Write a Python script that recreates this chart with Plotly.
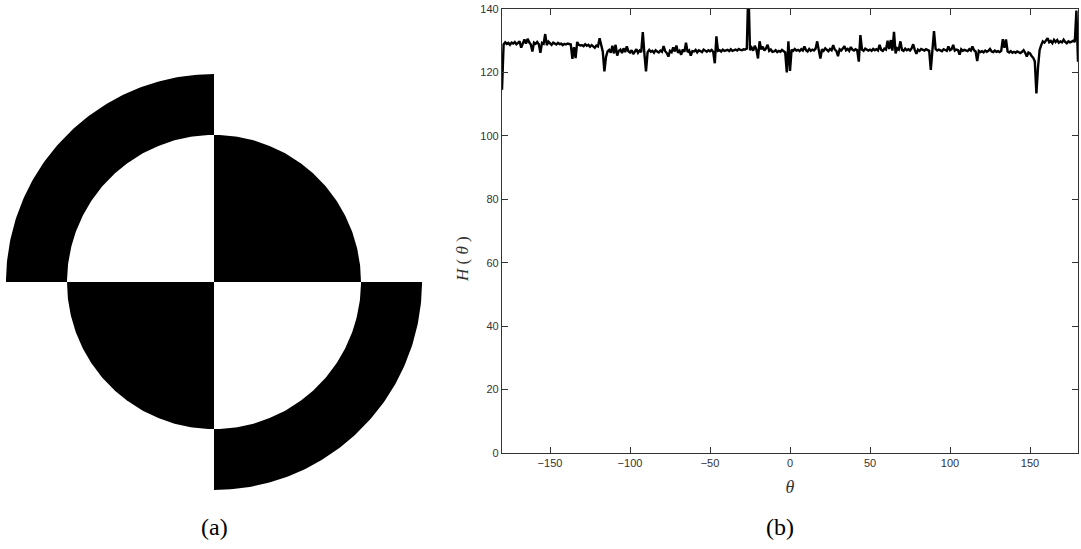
import numpy as np
import plotly.graph_objects as go

# ---------------- data: panel (b) ----------------
theta = list(range(-180, 181))
H = [
    # -180 .. -171
    114.5, 128.8, 129.5, 129.0, 129.3, 128.7, 129.4, 129.1, 129.6, 128.9,
    # -170 .. -161
    129.3, 129.8, 127.8, 129.4, 130.4, 129.1, 130.6, 129.5, 128.8, 126.6,
    # -160 .. -151
    129.4, 129.0, 129.6, 128.9, 126.2, 129.3, 129.0, 132.1, 128.6, 129.7,
    # -150 .. -141
    129.1, 128.7, 129.4, 129.0, 128.8, 129.3, 128.9, 129.1, 128.6, 129.0,
    # -140 .. -131
    128.8, 129.1, 128.9, 128.8, 124.3, 128.0, 124.5, 129.6, 128.7, 128.5,
    # -130 .. -121
    128.6, 128.3, 128.9, 128.4, 128.7, 128.1, 128.6, 128.3, 127.8, 128.5,
    # -120 .. -111
    128.2, 130.8, 128.0, 126.5, 120.3, 124.9, 126.6, 127.1, 126.2, 128.4,
    # -110 .. -101
    126.0, 128.7, 125.3, 126.8, 127.2, 126.1, 127.6, 126.4, 128.2, 126.7,
    # -100 .. -91
    126.3, 127.0, 125.8, 126.6, 127.3, 126.2, 126.9, 126.4, 132.7, 125.9,
    # -90 .. -81
    120.3, 126.4, 127.1, 126.5, 126.8, 126.2, 127.0, 126.6, 126.3, 126.9,
    # -80 .. -71
    126.5, 128.3, 126.7, 126.1, 125.0, 126.8, 126.4, 127.9, 126.6, 128.5,
    # -70 .. -61
    126.2, 126.8, 125.6, 127.3, 126.5, 129.4, 126.4, 126.9, 125.3, 126.7,
    # -60 .. -51
    126.6, 127.1, 126.3, 127.0, 126.7, 126.4, 127.2, 126.8, 126.5, 127.0,
    # -50 .. -41
    126.7, 127.1, 126.5, 122.9, 131.4, 126.8, 127.0, 126.6, 127.2, 126.8,
    # -40 .. -31
    126.9, 127.1, 126.7, 127.3, 126.8, 127.0, 127.2, 126.9, 127.4, 127.1,
    # -30 .. -21
    127.0, 127.3, 127.2, 127.5, 147.0, 127.0, 127.8, 126.9, 128.4, 127.2,
    # -20 .. -11
    124.4, 129.8, 127.3, 128.1, 126.9, 127.6, 128.7, 126.8, 127.2, 126.5,
    # -10 .. -1
    126.6, 127.0, 126.4, 126.8, 126.5, 127.1, 126.6, 126.3, 120.0, 129.8,
    # 0 .. 9
    120.5, 127.2, 126.8, 127.4, 126.9, 127.1, 126.7, 127.3, 126.9, 128.2,
    # 10 .. 19
    127.0, 126.6, 127.4, 126.8, 127.2, 126.9, 127.5, 129.8, 127.0, 124.4,
    # 20 .. 29
    127.3, 126.8, 127.6, 127.1, 126.7, 127.4, 127.0, 128.6, 127.2, 126.8,
    # 30 .. 39
    125.1, 127.3, 126.9, 127.5, 128.3, 127.0, 127.4, 126.8, 128.0, 127.2,
    # 40 .. 49
    126.9, 127.3, 127.0, 123.4, 131.8, 127.2, 126.8, 127.5, 127.1, 126.9,
    # 50 .. 59
    127.2, 126.8, 127.4, 127.0, 127.3, 126.9, 128.7, 127.1, 126.8, 127.5,
    # 60 .. 69
    127.2, 130.0, 127.4, 130.2, 126.9, 132.8, 126.0, 127.6, 127.2, 129.8,
    # 70 .. 79
    127.1, 126.8, 127.5, 127.0, 127.3, 126.9, 127.6, 128.9, 127.1, 125.9,
    # 80 .. 89
    127.2, 126.8, 127.4, 127.0, 126.9, 127.3, 127.1, 126.8, 120.8, 127.0,
    # 90 .. 99
    133.0, 127.4, 126.9, 127.2, 127.0, 126.7, 127.3, 127.1, 126.8, 128.2,
    # 100 .. 109
    127.0, 127.3, 128.7, 126.9, 127.2, 127.0, 125.6, 127.3, 126.8, 127.1,
    # 110 .. 119
    127.0, 126.7, 127.3, 126.9, 128.2, 127.0, 126.6, 123.6, 126.8, 126.4,
    # 120 .. 129
    126.7, 126.3, 126.9, 126.5, 126.8, 127.4, 126.6, 126.4, 126.9, 126.5,
    # 130 .. 139
    126.7, 126.4, 126.8, 130.5, 127.8, 130.4, 126.6, 126.3, 126.7, 126.2,
    # 140 .. 149
    126.5, 126.2, 126.6, 126.3, 126.1, 126.5, 127.0, 126.2, 125.0, 126.3,
    # 150 .. 159
    126.0, 125.2, 124.6, 123.5, 113.4, 121.5, 127.0, 128.6, 129.8, 129.4,
    # 160 .. 169
    130.0, 130.8, 129.5, 129.9, 129.2, 130.3, 129.6, 130.2, 129.4, 129.8,
    # 170 .. 179
    129.5, 130.3, 129.6, 129.2, 129.8, 129.5, 129.7, 130.0, 129.6, 139.5,
    # 180
    123.4,
]
x_ticks = [-150, -100, -50, 0, 50, 100, 150]
y_ticks = [0, 20, 40, 60, 80, 100, 120, 140]

# ---------------- data: panel (a) ----------------
inner_radius = 147
outer_radius = 208
# (start angle, end angle, inner r, outer r) of each black region, degrees
seg_start = [90, 0, 180, 270]
seg_end = [180, 90, 270, 360]
seg_r_in = [inner_radius, 0, 0, inner_radius]
seg_r_out = [outer_radius, inner_radius, inner_radius, outer_radius]

W, Hh = 1081, 549
fig = go.Figure()

# panel (a) shapes
for a0, a1, ri, ro in zip(seg_start, seg_end, seg_r_in, seg_r_out):
    t = np.radians(np.linspace(a0, a1, 120))
    xs = list(ro * np.cos(t)) + list(ri * np.cos(t[::-1]))
    ys = list(ro * np.sin(t)) + list(ri * np.sin(t[::-1]))
    fig.add_trace(go.Scatter(x=xs, y=ys, mode="lines", fill="toself",
                             fillcolor="black", line=dict(width=0, color="black"),
                             xaxis="x2", yaxis="y2", hoverinfo="skip",
                             showlegend=False))

# panel (b) line
fig.add_trace(go.Scatter(x=theta, y=H, mode="lines",
                         line=dict(color="black", width=2.4),
                         showlegend=False, xaxis="x", yaxis="y"))

axis_col = "#333333"
tick_font = dict(family="Liberation Sans, Arial, sans-serif", size=11, color="#333333")
serif = "Liberation Serif, Times New Roman, serif"

fig.update_layout(
    width=W, height=Hh,
    margin=dict(l=0, r=0, t=0, b=0),
    paper_bgcolor="white", plot_bgcolor="white",
    xaxis=dict(domain=[502 / W, 1078 / W], range=[-180, 180], automargin=False,
               tickvals=x_ticks, ticktext=[str(v).replace("-", "−") for v in x_ticks],
               ticks="inside", ticklen=6, tickwidth=1, tickcolor=axis_col,
               showline=True, linecolor=axis_col, linewidth=1.2, mirror="ticks",
               showgrid=False, zeroline=False, tickfont=tick_font,
               title=dict(text="<i>θ</i>", font=dict(family=serif, size=18, color="#333333"),
                          standoff=12)),
    yaxis=dict(domain=[1 - 453 / Hh, 1 - 9 / Hh], range=[0, 140], automargin=False,
               tickvals=y_ticks, ticks="inside", ticklen=6, tickwidth=1, tickcolor=axis_col,
               showline=True, linecolor=axis_col, linewidth=1.2, mirror="ticks",
               showgrid=False, zeroline=False, tickfont=tick_font),
    xaxis2=dict(domain=[0, 440 / W], range=[-214, 226], visible=False, fixedrange=True,
                automargin=False),
    yaxis2=dict(domain=[1 - 500 / Hh, 1 - 60 / Hh], range=[-218, 222], visible=False,
                fixedrange=True, automargin=False),
    annotations=[
        dict(text="<i>H</i> ( <i>θ</i> )", x=462 / W, y=1 - 259 / Hh, xref="paper",
             yref="paper", showarrow=False, textangle=-90, xanchor="center",
             yanchor="middle", font=dict(family=serif, size=17, color="#333333")),
        dict(text="(a)", x=214 / W, y=1 - 527 / Hh, xref="paper", yref="paper",
             showarrow=False, xanchor="center", yanchor="middle",
             font=dict(family=serif, size=24, color="black")),
        dict(text="(b)", x=780 / W, y=1 - 527 / Hh, xref="paper", yref="paper",
             showarrow=False, xanchor="center", yanchor="middle",
             font=dict(family=serif, size=24, color="black")),
    ],
)

fig.write_html("out.html")
